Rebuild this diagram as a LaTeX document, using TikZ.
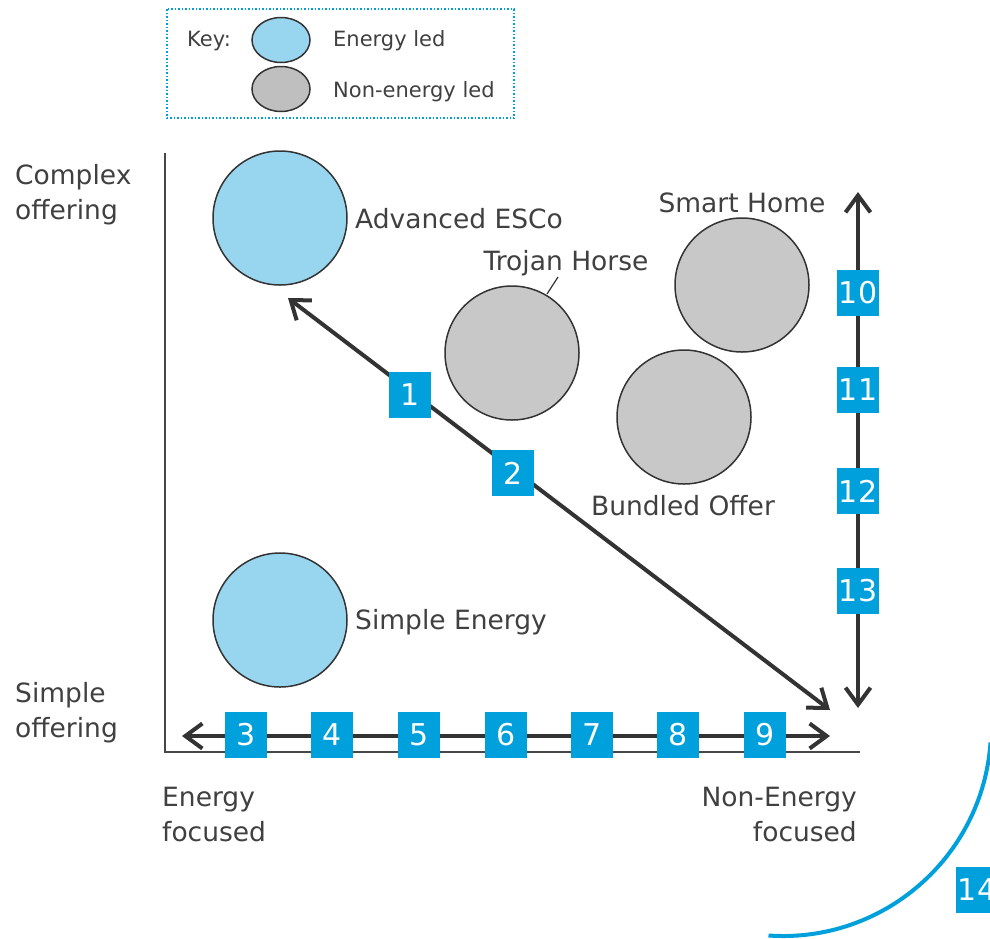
\documentclass[tikz,border=0pt]{standalone}
\usepackage{fontspec}
\setmainfont{DejaVu Sans}
\usetikzlibrary{arrows.meta,shapes.geometric}
\definecolor{txt}{RGB}{64,64,64}
\definecolor{lineg}{RGB}{51,51,51}
\definecolor{boxblue}{RGB}{0,160,220}
\definecolor{efill}{RGB}{152,213,238}
\definecolor{gfill}{RGB}{200,200,200}
\definecolor{kgfill}{RGB}{191,191,191}
\tikzset{
  lbl/.style={inner sep=0pt, text=txt, font=\fontsize{26.5}{35}\selectfont},
  keylbl/.style={inner sep=0pt, text=txt, font=\fontsize{21}{25}\selectfont},
  numbox/.style={rectangle, fill=boxblue, minimum width=42pt, minimum height=46pt, inner sep=0pt, text=white, font=\fontsize{30}{30}\selectfont},
  bubble/.style={circle, draw=lineg, line width=1.5pt, minimum size=134pt, inner sep=0pt},
  ebubble/.style={bubble, fill=efill},
  gbubble/.style={bubble, fill=gfill},
  keyell/.style={ellipse, draw=lineg, line width=1.5pt, minimum width=58pt, minimum height=45pt, inner sep=0pt},
  dbl/.style={draw=lineg, line width=4pt, {Straight Barb[length=17pt,width=25pt]}-{Straight Barb[length=17pt,width=25pt]}},
  axis/.style={draw=lineg!90, line width=2pt}
}
\begin{document}
\begin{tikzpicture}[x=1pt,y=-1pt]
\clip (0,0) rectangle (990,938);
\fill[white] (0,0) rectangle (990,938);
% key
\draw[boxblue, line width=1.5pt, dotted] (167,9) rectangle (514,118);
\node[keyell, fill=efill] (kenergy) at (281,40) {};
\node[keyell, fill=kgfill] (knon) at (281,89) {};
\node[keylbl, anchor=base west] (keyt) at (187,46) {Key:};
\node[keylbl, anchor=base west] (keye) at (333,46) {Energy led};
\node[keylbl, anchor=base west] (keyn) at (333,97) {Non-energy led};
% axes
\coordinate (ytop) at (165,153);
\coordinate (orig) at (165,752);
\coordinate (xend) at (860,752);
\draw[axis] (ytop) -- (orig) -- (xend);
% axis labels
\node[lbl, anchor=base west] (c1) at (15,184) {Complex};
\node[lbl, anchor=base west] (c2) at (15,219) {offering};
\node[lbl, anchor=base west] (s1) at (15,702) {Simple};
\node[lbl, anchor=base west] (s2) at (15,737) {offering};
\node[lbl, anchor=base west] (e1) at (162,806) {Energy};
\node[lbl, anchor=base west] (e2) at (162,841) {focused};
\node[lbl, anchor=base east] (n1) at (857,806) {Non-Energy};
\node[lbl, anchor=base east] (n2) at (857,841) {focused};
% bubbles
\node[ebubble] (adv) at (280,218) {};
\node[gbubble] (troj) at (512,353) {};
\node[gbubble] (smart) at (742,285) {};
\node[gbubble] (bund) at (684,417) {};
\node[ebubble] (simp) at (280,620) {};
\node[lbl, anchor=base west] (advl) at (355,228) {Advanced ESCo};
\node[lbl, anchor=base] (trojl) at (566,270) {Trojan Horse};
\node[lbl, anchor=base] (smartl) at (742,212) {Smart Home};
\node[lbl, anchor=base] (bundl) at (683,515) {Bundled Offer};
\node[lbl, anchor=base west] (simpl) at (355,629) {Simple Energy};
\coordinate (lead1) at (558,277);
\coordinate (lead2) at (547,294);
\draw[lineg, line width=1.2pt] (lead1) -- (lead2);
% arrows
\coordinate (d1) at (288,298);
\coordinate (d2) at (830,710);
\coordinate (h1) at (182,736);
\coordinate (h2) at (830,736);
\coordinate (v1) at (858,192);
\coordinate (v2) at (858,708);
\draw[dbl] (d1) -- (d2);
\draw[dbl] (h1) -- (h2);
\draw[dbl] (v1) -- (v2);
% number boxes
\node[numbox] (b1) at (410,395) {1};
\node[numbox] (b2) at (513,473) {2};
\node[numbox] (b3) at (246,735) {3};
\node[numbox] (b4) at (332,735) {4};
\node[numbox] (b5) at (419,735) {5};
\node[numbox] (b6) at (506,735) {6};
\node[numbox] (b7) at (592,735) {7};
\node[numbox] (b8) at (678,735) {8};
\node[numbox] (b9) at (765,735) {9};
\node[numbox] (b10) at (858,293) {10};
\node[numbox] (b11) at (858,390) {11};
\node[numbox] (b12) at (858,491) {12};
\node[numbox] (b13) at (858,591) {13};
% arc and 14
\draw[boxblue, line width=4pt] (783,728) ++(4:208) arc[start angle=4, end angle=94, radius=208];
\node[numbox] (b14) at (977,890) {14};
\end{tikzpicture}
\end{document}
